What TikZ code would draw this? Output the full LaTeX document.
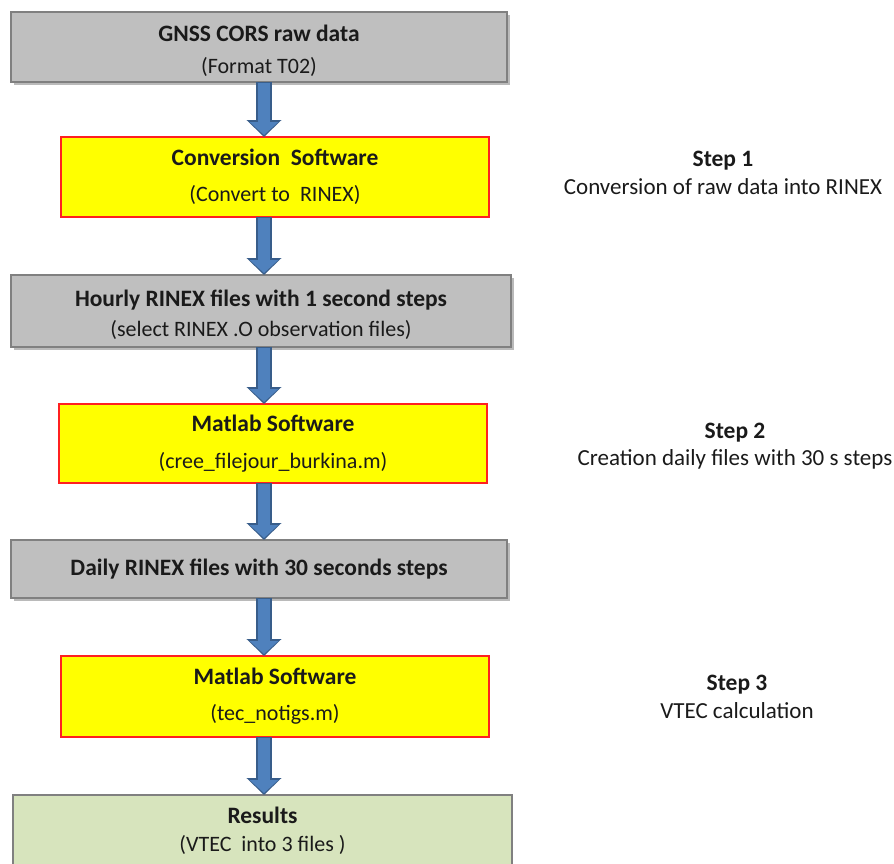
\documentclass[tikz,border=0pt]{standalone}
\usepackage{fontspec}
\setmainfont{Carlito}
\usetikzlibrary{arrows.meta,shadows,calc}
\definecolor{boxgray}{HTML}{BFBFBF}
\definecolor{grayedge}{HTML}{808080}
\definecolor{boxyellow}{HTML}{FFFF00}
\definecolor{rededge}{HTML}{FF2020}
\definecolor{boxgreen}{HTML}{D7E4BD}
\definecolor{arrowfill}{HTML}{4F81BD}
\definecolor{arrowedge}{HTML}{385D8A}
\definecolor{txt}{HTML}{1A1A1A}
\tikzset{
  basebox/.style={anchor=north west, outer sep=0pt, inner sep=2pt, align=center, text=txt},
  graybox/.style={basebox, fill=boxgray, draw=grayedge, line width=1.2pt,
    drop shadow={shadow xshift=3pt, shadow yshift=-3pt, opacity=0.45, fill=black!60}},
  yellowbox/.style={basebox, fill=boxyellow, draw=rededge, line width=1.5pt},
  greenbox/.style={basebox, fill=boxgreen, draw=grayedge, line width=1.5pt},
  stepnote/.style={align=center, text=txt, inner sep=0pt},
  arrowout/.style={draw=arrowedge, line width=16pt, -{Triangle[width=34pt,length=17pt]}},
  arrowin/.style={draw=arrowfill, line width=12pt, -{Triangle[width=28pt,length=13pt]}, shorten >=2pt, shorten <=1pt}
}
\newcommand{\ttlt}[1]{{\fontsize{23.5}{25}\selectfont\bfseries #1}}
\newcommand{\subt}[1]{{\fontsize{22}{25}\selectfont #1}}
\newcommand{\stept}[1]{{\fontsize{23}{25}\selectfont #1}}
\begin{document}
\begin{tikzpicture}[x=1pt,y=-1pt]
\useasboundingbox (0,0) rectangle (894,863);
% boxes
\node[graybox, minimum width=496pt, minimum height=70pt] (b1) at (11,12)
  {\rule{0pt}{24pt}\ttlt{GNSS CORS raw data}\\[15pt]\subt{(Format T02)}};
\node[yellowbox, minimum width=428pt, minimum height=80pt] (b2) at (61,137)
  {\ttlt{Conversion\ \ Software}\\[19pt]\subt{(Convert to\ \ RINEX)}};
\node[graybox, minimum width=500pt, minimum height=72pt] (b3) at (11,275)
  {\rule{0pt}{24pt}\ttlt{Hourly\ RINEX files with 1 second\ steps}\\[9pt]\subt{(select RINEX .O observation files)}};
\node[yellowbox, minimum width=428pt, minimum height=79pt] (b4) at (59,404)
  {\ttlt{Matlab Software}\\[20pt]\subt{(cree\_filejour\_burkina.m)}};
\node[graybox, minimum width=496pt, minimum height=58pt] (b5) at (11,540)
  {\ttlt{Daily RINEX files with\ 30 seconds\ steps}};
\node[yellowbox, minimum width=428pt, minimum height=81pt] (b6) at (61,656)
  {\ttlt{Matlab\ Software}\\[19pt]\subt{(tec\_notigs.m)}};
\node[greenbox, minimum width=499pt, minimum height=72pt] (b7) at (13,795)
  {\ttlt{Results}\\[11pt]\subt{(VTEC\ \ into 3 files )}};
% step notes
\node[stepnote] (s1) at (723,173) {\ttlt{Step 1}\\[7pt]\stept{Conversion of raw data into RINEX}};
\node[stepnote] (s2) at (735,446) {\ttlt{Step 2}\\[7pt]\stept{Creation daily files with 30 s steps}};
\node[stepnote] (s3) at (737,697) {\ttlt{Step 3}\\[7pt]\stept{VTEC calculation}};
% arrows
\coordinate (ax) at (264,0);
\foreach \u/\v in {b1/b2,b2/b3,b3/b4,b4/b5,b5/b6,b6/b7}{
  \draw[arrowout] (\u.south -| ax) -- (\v.north -| ax);
  \draw[arrowin] (\u.south -| ax) -- (\v.north -| ax);
}
\end{tikzpicture}
\end{document}
